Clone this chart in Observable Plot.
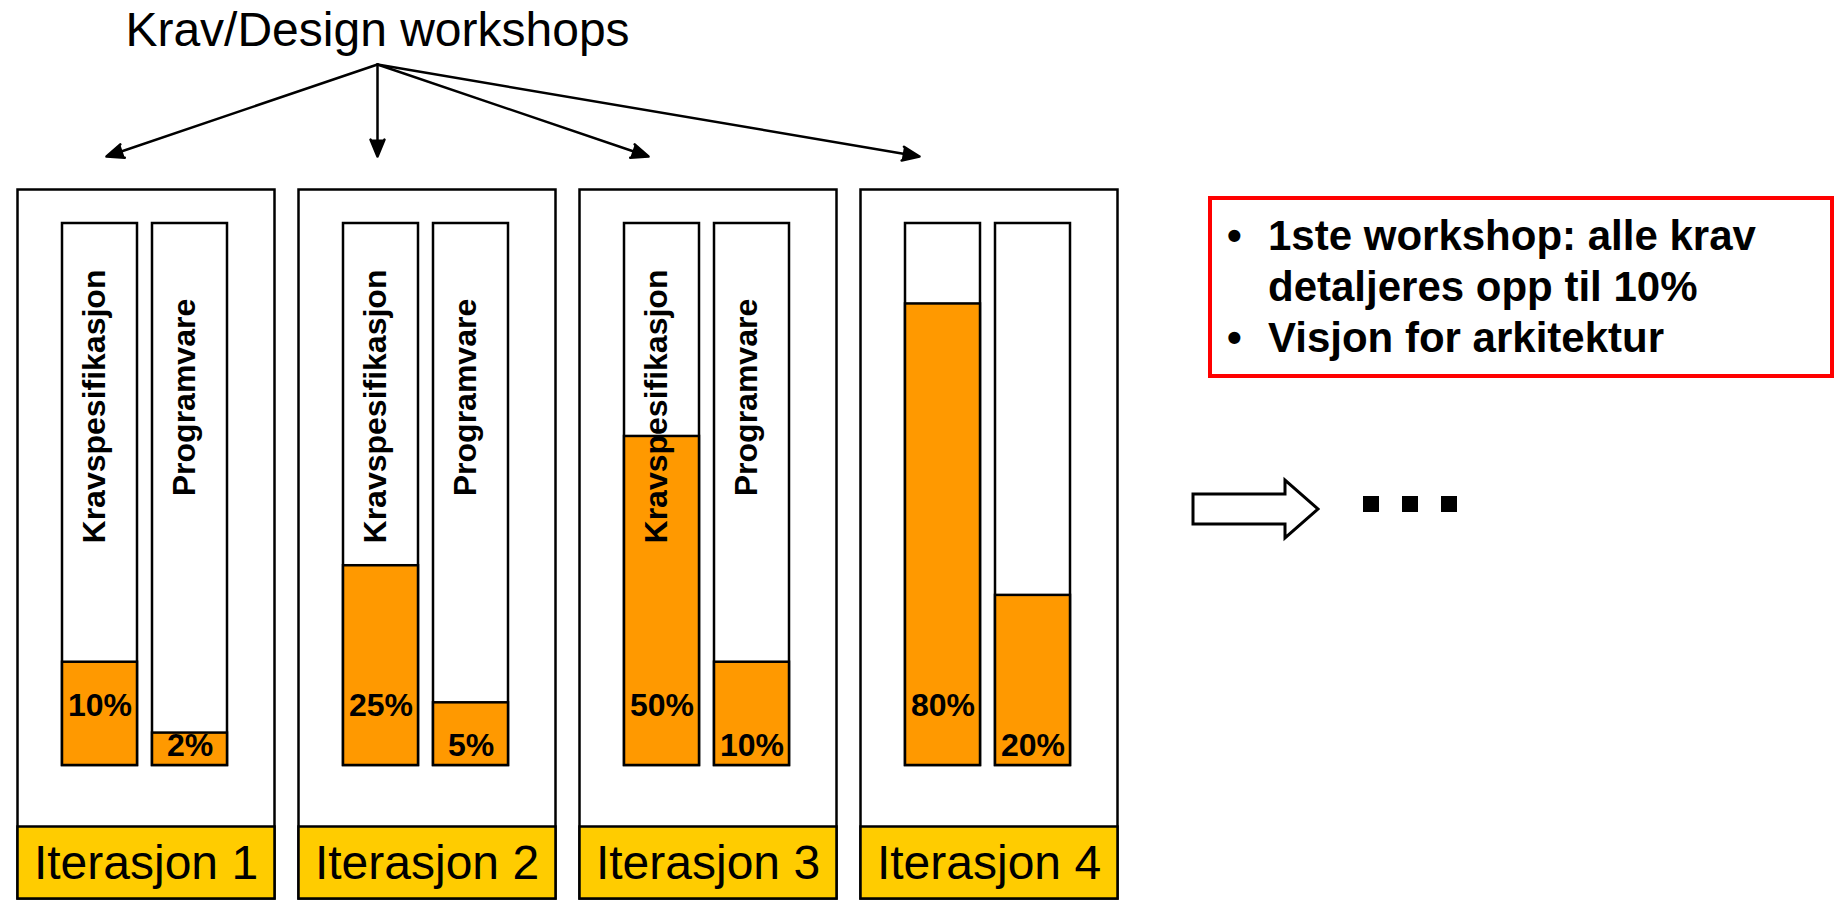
<!DOCTYPE html>
<html>
<head>
<meta charset="utf-8">
<script src="https://cdn.jsdelivr.net/npm/d3@7"></script>
<script src="https://cdn.jsdelivr.net/npm/@observablehq/plot@0.6"></script>
<style>
  html, body { margin: 0; padding: 0; background: #fff; }
  body { width: 1837px; height: 900px; position: relative; overflow: hidden;
         font-family: "Liberation Sans", Arial, Helvetica, sans-serif; color: #000; }
  #workshops { position: absolute; left: 0; top: 0; }
  #iterations { position: absolute; left: 0; top: 180px; }
  #note { position: absolute; left: 1208px; top: 196px; width: 626px; height: 182px;
          box-sizing: border-box; border: 4px solid #ff0000; padding-top: 10px;
          font-weight: bold; font-size: 42px; line-height: 51px; }
  #note .item { position: relative; padding-left: 56px; }
  #note .item::before { content: "\2022"; position: absolute; left: 15px; top: 0; }
  #next { position: absolute; left: 1190px; top: 476px; }
</style>
</head>
<body>
<div id="workshops"></div>
<div id="iterations"></div>
<div id="note"></div>
<svg id="next" width="290" height="66" viewBox="0 0 290 66">
  <path d="M3,18 L95,18 L95,4 L128,33 L95,62 L95,48 L3,48 Z" fill="#fff" stroke="#000" stroke-width="3"></path>
  <rect x="173" y="20" width="16" height="16" fill="#000"></rect>
  <rect x="212" y="20" width="16" height="16" fill="#000"></rect>
  <rect x="251" y="20" width="16" height="16" fill="#000"></rect>
</svg>
<script>
// Iterations and the two deliverables tracked in each
const iterations = ["Iterasjon 1", "Iterasjon 2", "Iterasjon 3", "Iterasjon 4"];
const kinds = ["Kravspesifikasjon", "Programvare"];
// Share of each deliverable completed at the end of each iteration (%)
const kravValues = [10, 25, 50, 80];
const programValues = [2, 5, 10, 20];
// Iterations whose bars carry the vertical deliverable names
const namedIterations = ["Iterasjon 1", "Iterasjon 2", "Iterasjon 3"];
// Header and the workshop that feeds every iteration
const workshopTitle = "Krav/Design workshops";
const workshopSource = "Iterasjon 2";
// Side note
const noteLines = ["1ste workshop: alle krav detaljeres opp til 10%", "Visjon for arkitektur"];

const bars = iterations.flatMap((iteration, i) => [
  {iteration, kind: kinds[0], value: kravValues[i]},
  {iteration, kind: kinds[1], value: programValues[i]}
]);
const nameLabels = bars.filter(d => namedIterations.includes(d.iteration));

const font = "'Liberation Sans', Arial, Helvetica, sans-serif";
const line = 2.5;

// Header: title with arrows fanning out to every iteration
const header = Plot.plot({
  width: 1134, height: 180,
  marginLeft: 105, marginRight: 214, marginTop: 64, marginBottom: 24,
  style: {fontFamily: font, background: "transparent", color: "#000"},
  x: {type: "point", domain: iterations, padding: 0, axis: null},
  y: {type: "point", domain: ["workshop", "iterasjon"], padding: 0, axis: null},
  marks: [
    Plot.arrow(iterations, {
      x1: () => workshopSource, y1: () => "workshop",
      x2: d => d, y2: () => "iterasjon",
      stroke: "#000", fill: "#000", strokeWidth: 2.5,
      headLength: 11, headAngle: 45
    }),
    Plot.text([workshopTitle], {
      x: () => workshopSource, y: () => "workshop", text: d => d,
      fontSize: 48, fill: "#000", dy: -34
    })
  ]
});
document.getElementById("workshops").append(header);

// Vertical deliverable name inside a bar
const nameText = (kind, dy) => Plot.text(nameLabels, {
  filter: d => d.kind === kind,
  fx: "iteration", x: "kind", text: "kind", rotate: -90,
  frameAnchor: "top", dy, dx: -18,
  fontSize: 32, fontWeight: "bold", fill: "#000"
});
// Percentage printed near the foot of a bar
const valueText = (kind, dy) => Plot.text(bars, {
  filter: d => d.kind === kind,
  fx: "iteration", x: "kind", y: () => 0, text: d => `${d.value}%`,
  dy, fontSize: 32, fontWeight: "bold", fill: "#000"
});

// One panel per iteration, two progress bars in each
const panels = Plot.plot({
  width: 1134, height: 720,
  marginLeft: 15, marginRight: 15, marginTop: 43, marginBottom: 135,
  style: {fontFamily: font, background: "transparent", color: "#000"},
  fx: {domain: iterations, paddingInner: 0.085, paddingOuter: 0, axis: null},
  x: {domain: kinds, paddingInner: 0.165, paddingOuter: 0, insetLeft: 45, insetRight: 46, axis: null},
  y: {type: "pow", exponent: 0.72, domain: [0, 100], axis: null},
  marks: [
    Plot.frame({stroke: "#000", strokeWidth: line, fill: "#fff", insetTop: -34, insetBottom: -133}),
    Plot.frame({stroke: "#000", strokeWidth: line, fill: "#FFCC00", insetTop: 603, insetBottom: -133}),
    Plot.barY(bars, {fx: "iteration", x: "kind", y: () => 100, fill: "#fff", stroke: "#000", strokeWidth: line}),
    Plot.barY(bars, {fx: "iteration", x: "kind", y: "value", fill: "#FF9900", stroke: "#000", strokeWidth: line}),
    nameText(kinds[0], 183),
    nameText(kinds[1], 174),
    valueText(kinds[0], -60),
    valueText(kinds[1], -20),
    Plot.text(iterations, {
      fx: d => d, text: d => d, frameAnchor: "bottom", dy: 113,
      fontSize: 48, fill: "#000"
    })
  ]
});
document.getElementById("iterations").append(panels);

// Side note with bullet points
const note = document.getElementById("note");
for (const t of noteLines) {
  const div = document.createElement("div");
  div.className = "item";
  div.textContent = t;
  note.append(div);
}
</script>
</body>
</html>
